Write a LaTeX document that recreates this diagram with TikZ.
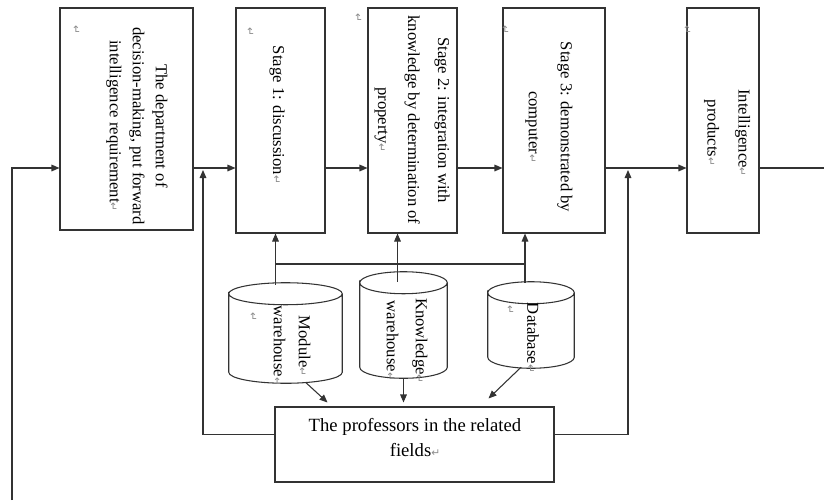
\documentclass[tikz,border=0pt]{standalone}
\usepackage{fontspec}
\setmainfont{Liberation Serif}
\newfontfamily\symfont{DejaVu Sans}
\usetikzlibrary{arrows.meta, calc}
\newcommand{\ret}{{\symfont\fontsize{8}{8}\selectfont\color{black!45}↵}}

\begin{document}
\begin{tikzpicture}[
  x=0.75pt, y=-0.75pt,
  conn/.style={draw=black!80, line width=0.8pt},
  arr/.style={conn, -{Triangle[length=6pt, width=5pt]}},
  stagebox/.style={draw=black!80, line width=0.8pt, minimum height=168.75pt, inner sep=0pt},
  store/.style={inner sep=0pt},
  vtxt/.style={rotate=-90, align=center, inner sep=0pt, font=\fontsize{12.5}{#1}\selectfont},
  vtxt/.default=17pt,
  retmark/.style={rotate=-90, inner sep=0pt},
]
\useasboundingbox (0,0) rectangle (824,500);

% --- levels and free ends
\coordinate (lvl)  at (0,168);
\coordinate (hbar) at (0,264);
\coordinate (fbk)  at (0,434.5);
\coordinate (fbs)  at (12,500);
\coordinate (out)  at (824,168);
\coordinate (j1)   at (203,170);
\coordinate (j2)   at (628,170);

% --- top row of boxes
\node[stagebox, minimum width=99.75pt, minimum height=166.5pt] (dept) at (126.5,119) {};
\node[stagebox, minimum width=66.75pt] (st1)  at (280.5,120.5) {};
\node[stagebox, minimum width=66.75pt] (st2)  at (412.5,120.5) {};
\node[stagebox, minimum width=76.5pt]  (st3)  at (554,120.5) {};
\node[stagebox, minimum width=54pt]    (prod) at (723,120.5) {};

\node[vtxt=17.25pt] (dept-t) at (137,126)
  {The department of\\decision-making, put forward\\intelligence requirement\ret};
\node[vtxt] (st1-t) at (277,115) {Stage 1: discussion\ret};
\node[vtxt=22.5pt] (st2-t) at (412,120)
  {Stage 2: integration with\\knowledge by determination of\\property\ret};
\node[vtxt=24pt] (st3-t) at (549,127) {Stage 3: demonstrated by\\computer\ret};
\node[vtxt=23.25pt] (prod-t) at (727,133) {Intelligence\ret\\products\ret};

% --- stores (outline drawn below)
\node[store, minimum width=84.75pt, minimum height=75pt]   (mod)  at (285.5,333) {};
\node[store, minimum width=65.25pt, minimum height=79.5pt] (know) at (403.5,325) {};
\node[store, minimum width=64.5pt,  minimum height=64.5pt] (db)   at (531,325) {};

\foreach \s in {mod, know, db} {
  \draw[conn] let \p1 = ($(\s.north east)-(\s.north west)$), \n1 = {0.5*\x1} in
    ($(\s.north west)+(0,11)$) arc[start angle=180, end angle=-180, x radius=\n1, y radius=8.25pt]
    -- ($(\s.south west)+(0,-11)$) arc[start angle=180, end angle=360, x radius=\n1, y radius=8.25pt]
    -- ($(\s.north east)+(0,11)$);
}

\node[vtxt=18.75pt] (mod-t)  at (292,346) {Module\ret\\warehouse\ret};
\node[vtxt=21.75pt] (know-t) at (407,341) {Knowledge\ret\\warehouse\ret};
\node[vtxt] (db-t) at (533,338) {Database\ret};

% --- professors
\node[draw=black!80, line width=0.8pt, minimum width=209.25pt, minimum height=56.25pt] (prof) at (414.5,444.5) {};
\node[align=center, inner sep=0pt, font=\fontsize{14}{18.75}\selectfont] (prof-t) at (415,437.5)
  {The professors in the related\\fields\ret};

% --- stray paragraph marks
\node[retmark] (r0) at (76,30)  {\ret};
\node[retmark] (r1) at (250,32) {\ret};
\node[retmark] (r2) at (358,18) {\ret};
\node[retmark] (r3) at (505,30) {\ret};
\node[retmark] (r4) at (687,30) {\ret};
\node[retmark] (r5) at (253,317) {\ret};
\node[retmark] (r6) at (510,310) {\ret};

% --- main flow
\draw[arr] (fbs) |- (dept.west |- lvl);
\draw[arr] (dept.east |- lvl) -- (st1.west |- lvl);
\draw[arr] (st1.east |- lvl) -- (st2.west |- lvl);
\draw[arr] (st2.east |- lvl) -- (st3.west |- lvl);
\draw[arr] (st3.east |- lvl) -- (prod.west |- lvl);
\draw[conn] (prod.east |- lvl) -- (out);

% --- stores feed the stages
\draw[arr] ($(st1.south |- mod.north)+(-5,2)$) coordinate (mq) -- (mq |- st1.south);
\draw[conn] (mq |- hbar) -- ($(db.north |- hbar)+(-6,0)$);
\draw[arr] ($(know.north)+(-6,10)$) coordinate (kq) -- (kq |- st2.south);
\draw[arr] ($(db.north)+(-6,1)$) coordinate (dq) -- (dq |- st3.south);

% --- stores feed the professors
\draw[arr] ($(mod.south)+(20,-1)$) -- ($(prof.north)+(-87,-4)$);
\draw[arr] (know.south) -- ($(know.south |- prof.north)+(0,-4)$);
\draw[arr] ($(db.south)+(-10,-1)$) -- ($(prof.north)+(74,-8)$);

% --- professors back into the main line
\draw[arr] (prof.west |- fbk) -| (j1);
\draw[arr] (prof.east |- fbk) -| (j2);

\end{tikzpicture}
\end{document}
